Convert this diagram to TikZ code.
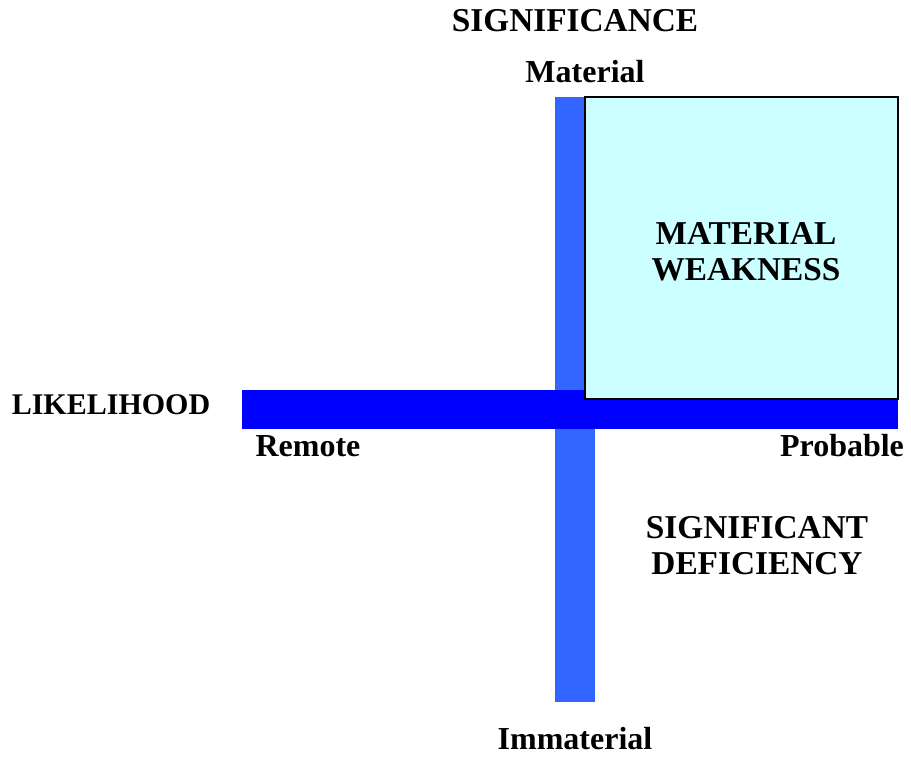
\documentclass[tikz,border=0pt]{standalone}
\usepackage{fontspec}
\setmainfont{Liberation Serif}
\definecolor{axisblue}{HTML}{3366FF}
\definecolor{barblue}{HTML}{0000FF}
\definecolor{boxcyan}{HTML}{CCFFFF}
\tikzset{
  lbl/.style={inner sep=0pt,font=\fontsize{24}{27}\selectfont\bfseries},
  caps/.style={lbl,font=\fontsize{25}{27}\selectfont\bfseries},
  quad/.style={caps,align=center}
}
\begin{document}
\begin{tikzpicture}[x=0.75pt,y=-0.75pt]
	    \useasboundingbox (0,0) rectangle (911,758);
	    \fill[axisblue](555,97) rectangle (595,702);
	    \fill[barblue](242,390) rectangle (898,429);
	    \filldraw[fill=boxcyan,draw=black,line width=1.5pt](585,97) rectangle (898,399);
	    \node[caps,anchor=base] (sig) at (575,31) {SIGNIFICANCE};
	    \node[lbl,anchor=base] (mat) at (585,82) {Material};
	    \node[lbl,anchor=base] (imm) at (575,749) {Immaterial};
	    \node[lbl,anchor=base,font=\fontsize{22.5}{27}\selectfont\bfseries] (lik) at (111,414) {LIKELIHOOD};
	    \node[lbl,anchor=base] (rem) at (308,456) {Remote};
	    \node[lbl,anchor=base] (prob) at (842,456) {Probable};
	    \node[quad] (mw) at (746,251.5) {MATERIAL\\WEAKNESS};
	    \node[quad] (sd) at (757,546) {SIGNIFICANT\\DEFICIENCY};

	\end{tikzpicture}
\end{document}
